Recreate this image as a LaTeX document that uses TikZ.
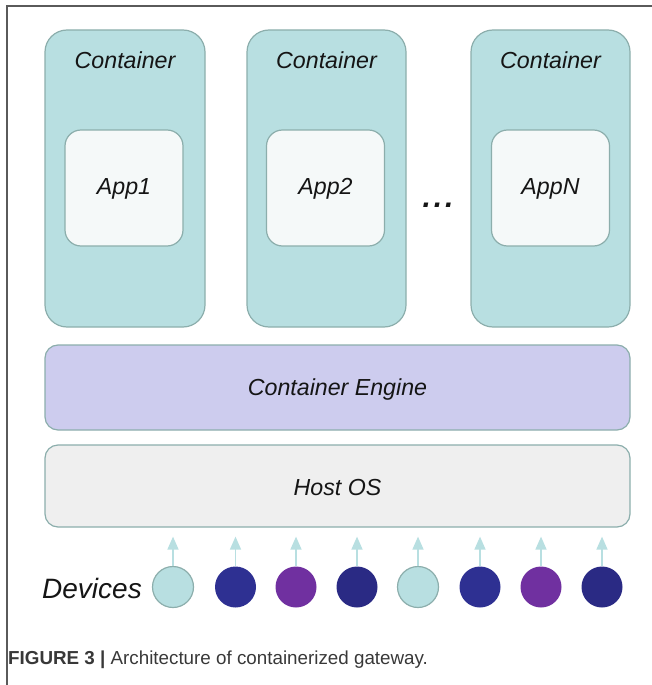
\documentclass[tikz,border=0pt]{standalone}
\usepackage{fontspec}
\setmainfont{Liberation Sans}
\usetikzlibrary{arrows.meta}

\definecolor{teal}{HTML}{B8DFE1}
\definecolor{tealline}{HTML}{8CAEAC}
\definecolor{appfill}{HTML}{F5F9F9}
\definecolor{enginefill}{HTML}{CDCCEE}
\definecolor{hostfill}{HTML}{EFEFEF}
\definecolor{navy}{HTML}{2E3092}
\definecolor{navydark}{HTML}{2A2A84}
\definecolor{purple}{HTML}{7030A0}
\definecolor{ink}{HTML}{151515}
\definecolor{framegray}{HTML}{5A5A5A}

\tikzset{
  layerbox/.style={draw=tealline, line width=1.2pt, rounded corners=13pt, inner sep=0pt},
  containerbox/.style={layerbox, fill=teal, rounded corners=22pt, minimum height=297pt},
  appbox/.style={layerbox, fill=appfill, rounded corners=16pt, minimum width=118pt, minimum height=116pt},
  barbox/.style={layerbox, minimum width=585pt},
  lbl/.style={text=ink, font=\fontsize{23.2}{27}\selectfont\itshape, inner sep=0pt},
  device/.style={circle, minimum size=41pt, inner sep=0pt},
  feed/.style={draw=teal, line width=1.6pt, -{Triangle[length=13pt, width=11pt]}, shorten >=9pt}
}

\begin{document}
\begin{tikzpicture}[x=1pt, y=-1pt]
\useasboundingbox (0,0) rectangle (652,685);

% frame lines along the top and left edges
\draw[framegray, line width=1.6pt] (7,685) -- (7,6) -- (652,6);

% containers and their applications
\node[containerbox, minimum width=160pt] (c1) at (125,178.5) {};
\node[containerbox, minimum width=159pt] (c2) at (326.5,178.5) {};
\node[containerbox, minimum width=159pt] (c3) at (550.5,178.5) {};

\node[lbl] (c1l) at (125,60) {Container};
\node[lbl] (c2l) at (326.5,60) {Container};
\node[lbl] (c3l) at (550.5,60) {Container};

\node[appbox] (a1) at (124,188) {};
\node[appbox] (a2) at (325.5,188) {};
\node[appbox] (a3) at (550.5,188) {};
\node[lbl] (a1l) at (124,189) {App1};
\node[lbl] (a2l) at (325.5,189) {App2};
\node[lbl] (a3l) at (550.5,189) {AppN};

\node[text=ink, font=\fontsize{30}{34}\selectfont\bfseries\itshape, inner sep=0pt] (dots) at (438,205) {.\kern3pt.\kern3pt.};

% layers
\node[barbox, fill=enginefill, minimum height=85pt] (engine) at (337.5,387.5) {};
\node[lbl] (enginel) at (337.5,389) {Container Engine};
\node[barbox, fill=hostfill, minimum height=82pt] (host) at (337.5,486) {};
\node[lbl] (hostl) at (337.5,488) {Host OS};

% devices
\node[text=ink, font=\fontsize{28}{31}\selectfont\itshape, anchor=west, inner sep=0pt] (devl) at (42,588) {Devices};
\node[device, fill=teal, draw=tealline, line width=1.2pt] (d1) at (173,587) {};
\node[device, fill=navy] (d2) at (235.5,587) {};
\node[device, fill=purple] (d3) at (296,587) {};
\node[device, fill=navydark] (d4) at (357,587) {};
\node[device, fill=teal, draw=tealline, line width=1.2pt] (d5) at (418,587) {};
\node[device, fill=navy] (d6) at (480,587) {};
\node[device, fill=purple] (d7) at (541,587) {};
\node[device, fill=navydark] (d8) at (602,587) {};

\foreach \d in {d1,d2,d3,d4,d5,d6,d7,d8}
  \draw[feed] (\d.north) -- (\d.north |- host.south);

% caption
\node[anchor=west, inner sep=0pt, text=ink!85, font=\fontsize{18.8}{22}\selectfont] (cap) at (8,660)
  {\textbf{FIGURE 3 |} Architecture of containerized gateway.};
\end{tikzpicture}
\end{document}
